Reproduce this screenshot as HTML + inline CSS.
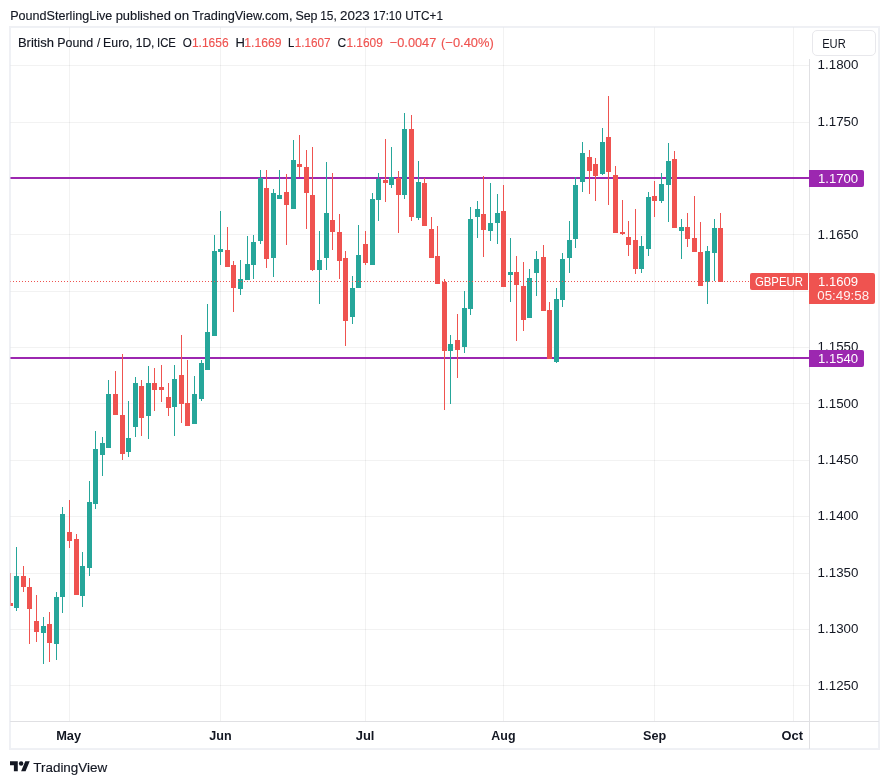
<!DOCTYPE html>
<html lang="en">
<head>
<meta charset="utf-8">
<title>GBPEUR chart</title>
<style>
html,body{margin:0;padding:0;background:#fff;}
body{width:889px;height:784px;position:relative;overflow:hidden;font-family:"Liberation Sans",sans-serif;color:#131722;}
svg{position:absolute;left:0;top:0;}
.s{position:absolute;left:0;white-space:nowrap;-webkit-text-stroke:0.15px currentColor;line-height:14px;height:14px;transform-origin:0 0;}

.w{-webkit-text-stroke:0;}
#eur{position:absolute;left:812.1px;top:30.3px;width:61.6px;height:23.3px;border:1px solid #e8e8ec;border-radius:5px;background:#fff;}
.tag{position:absolute;}
</style>
</head>
<body>
<svg width="889" height="784" viewBox="0 0 889 784" shape-rendering="crispEdges">
<rect x="10" y="65" width="799" height="1" fill="rgba(0,0,0,0.05)"/>
<rect x="10" y="122" width="799" height="1" fill="rgba(0,0,0,0.05)"/>
<rect x="10" y="178" width="799" height="1" fill="rgba(0,0,0,0.05)"/>
<rect x="10" y="234" width="799" height="1" fill="rgba(0,0,0,0.05)"/>
<rect x="10" y="291" width="799" height="1" fill="rgba(0,0,0,0.05)"/>
<rect x="10" y="347" width="799" height="1" fill="rgba(0,0,0,0.05)"/>
<rect x="10" y="403" width="799" height="1" fill="rgba(0,0,0,0.05)"/>
<rect x="10" y="460" width="799" height="1" fill="rgba(0,0,0,0.05)"/>
<rect x="10" y="516" width="799" height="1" fill="rgba(0,0,0,0.05)"/>
<rect x="10" y="573" width="799" height="1" fill="rgba(0,0,0,0.05)"/>
<rect x="10" y="629" width="799" height="1" fill="rgba(0,0,0,0.05)"/>
<rect x="10" y="685" width="799" height="1" fill="rgba(0,0,0,0.05)"/>
<rect x="69" y="27" width="1" height="694" fill="rgba(0,0,0,0.05)"/>
<rect x="220" y="27" width="1" height="694" fill="rgba(0,0,0,0.05)"/>
<rect x="365" y="27" width="1" height="694" fill="rgba(0,0,0,0.05)"/>
<rect x="503" y="27" width="1" height="694" fill="rgba(0,0,0,0.05)"/>
<rect x="654" y="27" width="1" height="694" fill="rgba(0,0,0,0.05)"/>
<rect x="793" y="27" width="1" height="694" fill="rgba(0,0,0,0.05)"/>
<rect x="10" y="177" width="799" height="2" fill="#9c27b0"/>
<rect x="10" y="357" width="799" height="2" fill="#9c27b0"/>
<rect x="10" y="603" width="3" height="3" fill="#ef5350"/>
<rect x="10" y="573" width="1" height="30" fill="#ef5350"/>
<rect x="16" y="547" width="1" height="64" fill="#26a69a"/>
<rect x="14" y="576" width="5" height="32" fill="#26a69a"/>
<rect x="23" y="566" width="1" height="26" fill="#ef5350"/>
<rect x="21" y="576" width="5" height="11" fill="#ef5350"/>
<rect x="29" y="578" width="1" height="66" fill="#ef5350"/>
<rect x="27" y="587" width="5" height="22" fill="#ef5350"/>
<rect x="36" y="595" width="1" height="47" fill="#ef5350"/>
<rect x="34" y="621" width="5" height="11" fill="#ef5350"/>
<rect x="43" y="617" width="1" height="47" fill="#26a69a"/>
<rect x="41" y="626" width="5" height="7" fill="#26a69a"/>
<rect x="49" y="612" width="1" height="50" fill="#ef5350"/>
<rect x="47" y="624" width="5" height="19" fill="#ef5350"/>
<rect x="56" y="592" width="1" height="68" fill="#26a69a"/>
<rect x="54" y="597" width="5" height="47" fill="#26a69a"/>
<rect x="62" y="507" width="1" height="106" fill="#26a69a"/>
<rect x="60" y="514" width="5" height="83" fill="#26a69a"/>
<rect x="69" y="500" width="1" height="48" fill="#ef5350"/>
<rect x="67" y="532" width="5" height="9" fill="#ef5350"/>
<rect x="76" y="534" width="1" height="61" fill="#ef5350"/>
<rect x="74" y="539" width="5" height="56" fill="#ef5350"/>
<rect x="82" y="552" width="1" height="55" fill="#26a69a"/>
<rect x="80" y="566" width="5" height="30" fill="#26a69a"/>
<rect x="89" y="481" width="1" height="95" fill="#26a69a"/>
<rect x="87" y="502" width="5" height="66" fill="#26a69a"/>
<rect x="95" y="431" width="1" height="78" fill="#26a69a"/>
<rect x="93" y="449" width="5" height="55" fill="#26a69a"/>
<rect x="102" y="437" width="1" height="39" fill="#26a69a"/>
<rect x="100" y="443" width="5" height="12" fill="#26a69a"/>
<rect x="108" y="380" width="1" height="68" fill="#26a69a"/>
<rect x="106" y="394" width="5" height="54" fill="#26a69a"/>
<rect x="115" y="371" width="1" height="44" fill="#ef5350"/>
<rect x="113" y="394" width="5" height="21" fill="#ef5350"/>
<rect x="122" y="354" width="1" height="106" fill="#ef5350"/>
<rect x="120" y="415" width="5" height="39" fill="#ef5350"/>
<rect x="128" y="401" width="1" height="56" fill="#26a69a"/>
<rect x="126" y="438" width="5" height="14" fill="#26a69a"/>
<rect x="135" y="377" width="1" height="60" fill="#26a69a"/>
<rect x="133" y="383" width="5" height="44" fill="#26a69a"/>
<rect x="141" y="380" width="1" height="56" fill="#ef5350"/>
<rect x="139" y="386" width="5" height="32" fill="#ef5350"/>
<rect x="148" y="366" width="1" height="73" fill="#26a69a"/>
<rect x="146" y="383" width="5" height="33" fill="#26a69a"/>
<rect x="154" y="368" width="1" height="43" fill="#ef5350"/>
<rect x="152" y="383" width="5" height="7" fill="#ef5350"/>
<rect x="161" y="365" width="1" height="37" fill="#ef5350"/>
<rect x="159" y="387" width="5" height="3" fill="#ef5350"/>
<rect x="168" y="383" width="1" height="33" fill="#ef5350"/>
<rect x="166" y="397" width="5" height="11" fill="#ef5350"/>
<rect x="174" y="365" width="1" height="71" fill="#26a69a"/>
<rect x="172" y="379" width="5" height="28" fill="#26a69a"/>
<rect x="181" y="335" width="1" height="88" fill="#ef5350"/>
<rect x="179" y="375" width="5" height="29" fill="#ef5350"/>
<rect x="187" y="360" width="1" height="66" fill="#ef5350"/>
<rect x="185" y="403" width="5" height="23" fill="#ef5350"/>
<rect x="194" y="376" width="1" height="48" fill="#26a69a"/>
<rect x="192" y="394" width="5" height="30" fill="#26a69a"/>
<rect x="201" y="360" width="1" height="41" fill="#26a69a"/>
<rect x="199" y="363" width="5" height="36" fill="#26a69a"/>
<rect x="207" y="304" width="1" height="66" fill="#26a69a"/>
<rect x="205" y="332" width="5" height="38" fill="#26a69a"/>
<rect x="214" y="235" width="1" height="101" fill="#26a69a"/>
<rect x="212" y="251" width="5" height="85" fill="#26a69a"/>
<rect x="220" y="211" width="1" height="54" fill="#26a69a"/>
<rect x="218" y="249" width="5" height="3" fill="#26a69a"/>
<rect x="227" y="227" width="1" height="40" fill="#ef5350"/>
<rect x="225" y="250" width="5" height="17" fill="#ef5350"/>
<rect x="233" y="261" width="1" height="51" fill="#ef5350"/>
<rect x="231" y="265" width="5" height="23" fill="#ef5350"/>
<rect x="240" y="260" width="1" height="35" fill="#26a69a"/>
<rect x="238" y="279" width="5" height="10" fill="#26a69a"/>
<rect x="247" y="236" width="1" height="44" fill="#26a69a"/>
<rect x="245" y="264" width="5" height="16" fill="#26a69a"/>
<rect x="253" y="235" width="1" height="44" fill="#26a69a"/>
<rect x="251" y="242" width="5" height="23" fill="#26a69a"/>
<rect x="260" y="170" width="1" height="74" fill="#26a69a"/>
<rect x="258" y="178" width="5" height="63" fill="#26a69a"/>
<rect x="266" y="170" width="1" height="98" fill="#ef5350"/>
<rect x="264" y="188" width="5" height="71" fill="#ef5350"/>
<rect x="273" y="189" width="1" height="88" fill="#26a69a"/>
<rect x="271" y="193" width="5" height="65" fill="#26a69a"/>
<rect x="279" y="170" width="1" height="29" fill="#26a69a"/>
<rect x="277" y="195" width="5" height="4" fill="#26a69a"/>
<rect x="286" y="174" width="1" height="71" fill="#ef5350"/>
<rect x="284" y="192" width="5" height="13" fill="#ef5350"/>
<rect x="293" y="140" width="1" height="69" fill="#26a69a"/>
<rect x="291" y="160" width="5" height="49" fill="#26a69a"/>
<rect x="299" y="135" width="1" height="42" fill="#ef5350"/>
<rect x="297" y="164" width="5" height="3" fill="#ef5350"/>
<rect x="306" y="150" width="1" height="79" fill="#ef5350"/>
<rect x="304" y="167" width="5" height="26" fill="#ef5350"/>
<rect x="312" y="147" width="1" height="124" fill="#ef5350"/>
<rect x="310" y="195" width="5" height="75" fill="#ef5350"/>
<rect x="319" y="231" width="1" height="73" fill="#26a69a"/>
<rect x="317" y="260" width="5" height="10" fill="#26a69a"/>
<rect x="326" y="162" width="1" height="108" fill="#26a69a"/>
<rect x="324" y="213" width="5" height="45" fill="#26a69a"/>
<rect x="332" y="173" width="1" height="77" fill="#ef5350"/>
<rect x="330" y="220" width="5" height="12" fill="#ef5350"/>
<rect x="339" y="214" width="1" height="65" fill="#ef5350"/>
<rect x="337" y="232" width="5" height="29" fill="#ef5350"/>
<rect x="345" y="251" width="1" height="95" fill="#ef5350"/>
<rect x="343" y="258" width="5" height="63" fill="#ef5350"/>
<rect x="352" y="276" width="1" height="48" fill="#26a69a"/>
<rect x="350" y="288" width="5" height="29" fill="#26a69a"/>
<rect x="358" y="225" width="1" height="63" fill="#26a69a"/>
<rect x="356" y="255" width="5" height="33" fill="#26a69a"/>
<rect x="365" y="231" width="1" height="34" fill="#ef5350"/>
<rect x="363" y="244" width="5" height="19" fill="#ef5350"/>
<rect x="372" y="193" width="1" height="72" fill="#26a69a"/>
<rect x="370" y="199" width="5" height="66" fill="#26a69a"/>
<rect x="378" y="173" width="1" height="48" fill="#26a69a"/>
<rect x="376" y="179" width="5" height="21" fill="#26a69a"/>
<rect x="385" y="139" width="1" height="63" fill="#ef5350"/>
<rect x="383" y="180" width="5" height="3" fill="#ef5350"/>
<rect x="391" y="147" width="1" height="41" fill="#26a69a"/>
<rect x="389" y="177" width="5" height="8" fill="#26a69a"/>
<rect x="398" y="171" width="1" height="62" fill="#ef5350"/>
<rect x="396" y="178" width="5" height="17" fill="#ef5350"/>
<rect x="404" y="113" width="1" height="86" fill="#26a69a"/>
<rect x="402" y="129" width="5" height="66" fill="#26a69a"/>
<rect x="411" y="115" width="1" height="106" fill="#ef5350"/>
<rect x="409" y="129" width="5" height="88" fill="#ef5350"/>
<rect x="418" y="161" width="1" height="59" fill="#26a69a"/>
<rect x="416" y="182" width="5" height="36" fill="#26a69a"/>
<rect x="424" y="178" width="1" height="48" fill="#ef5350"/>
<rect x="422" y="183" width="5" height="43" fill="#ef5350"/>
<rect x="431" y="217" width="1" height="41" fill="#ef5350"/>
<rect x="429" y="229" width="5" height="29" fill="#ef5350"/>
<rect x="437" y="226" width="1" height="58" fill="#ef5350"/>
<rect x="435" y="256" width="5" height="28" fill="#ef5350"/>
<rect x="444" y="279" width="1" height="131" fill="#ef5350"/>
<rect x="442" y="282" width="5" height="69" fill="#ef5350"/>
<rect x="450" y="335" width="1" height="69" fill="#26a69a"/>
<rect x="448" y="344" width="5" height="7" fill="#26a69a"/>
<rect x="457" y="314" width="1" height="64" fill="#ef5350"/>
<rect x="455" y="340" width="5" height="10" fill="#ef5350"/>
<rect x="464" y="291" width="1" height="62" fill="#26a69a"/>
<rect x="462" y="308" width="5" height="39" fill="#26a69a"/>
<rect x="470" y="207" width="1" height="108" fill="#26a69a"/>
<rect x="468" y="219" width="5" height="90" fill="#26a69a"/>
<rect x="477" y="201" width="1" height="37" fill="#26a69a"/>
<rect x="475" y="209" width="5" height="8" fill="#26a69a"/>
<rect x="483" y="176" width="1" height="81" fill="#ef5350"/>
<rect x="481" y="214" width="5" height="16" fill="#ef5350"/>
<rect x="490" y="183" width="1" height="58" fill="#26a69a"/>
<rect x="488" y="223" width="5" height="8" fill="#26a69a"/>
<rect x="497" y="194" width="1" height="50" fill="#26a69a"/>
<rect x="495" y="213" width="5" height="10" fill="#26a69a"/>
<rect x="503" y="185" width="1" height="102" fill="#ef5350"/>
<rect x="501" y="211" width="5" height="76" fill="#ef5350"/>
<rect x="510" y="238" width="1" height="64" fill="#26a69a"/>
<rect x="508" y="272" width="5" height="3" fill="#26a69a"/>
<rect x="516" y="256" width="1" height="85" fill="#ef5350"/>
<rect x="514" y="272" width="5" height="13" fill="#ef5350"/>
<rect x="523" y="262" width="1" height="69" fill="#ef5350"/>
<rect x="521" y="286" width="5" height="34" fill="#ef5350"/>
<rect x="529" y="269" width="1" height="49" fill="#26a69a"/>
<rect x="527" y="278" width="5" height="40" fill="#26a69a"/>
<rect x="536" y="251" width="1" height="45" fill="#26a69a"/>
<rect x="534" y="259" width="5" height="14" fill="#26a69a"/>
<rect x="543" y="245" width="1" height="66" fill="#ef5350"/>
<rect x="541" y="257" width="5" height="54" fill="#ef5350"/>
<rect x="549" y="302" width="1" height="57" fill="#ef5350"/>
<rect x="547" y="310" width="5" height="49" fill="#ef5350"/>
<rect x="556" y="288" width="1" height="75" fill="#26a69a"/>
<rect x="554" y="299" width="5" height="63" fill="#26a69a"/>
<rect x="562" y="253" width="1" height="54" fill="#26a69a"/>
<rect x="560" y="259" width="5" height="41" fill="#26a69a"/>
<rect x="569" y="221" width="1" height="52" fill="#26a69a"/>
<rect x="567" y="240" width="5" height="18" fill="#26a69a"/>
<rect x="575" y="177" width="1" height="71" fill="#26a69a"/>
<rect x="573" y="185" width="5" height="54" fill="#26a69a"/>
<rect x="582" y="142" width="1" height="50" fill="#26a69a"/>
<rect x="580" y="153" width="5" height="29" fill="#26a69a"/>
<rect x="589" y="150" width="1" height="44" fill="#ef5350"/>
<rect x="587" y="157" width="5" height="14" fill="#ef5350"/>
<rect x="595" y="158" width="1" height="43" fill="#ef5350"/>
<rect x="593" y="164" width="5" height="12" fill="#ef5350"/>
<rect x="602" y="128" width="1" height="47" fill="#26a69a"/>
<rect x="600" y="142" width="5" height="32" fill="#26a69a"/>
<rect x="608" y="96" width="1" height="109" fill="#ef5350"/>
<rect x="606" y="137" width="5" height="35" fill="#ef5350"/>
<rect x="615" y="166" width="1" height="67" fill="#ef5350"/>
<rect x="613" y="175" width="5" height="58" fill="#ef5350"/>
<rect x="622" y="200" width="1" height="35" fill="#ef5350"/>
<rect x="620" y="232" width="5" height="2" fill="#ef5350"/>
<rect x="628" y="221" width="1" height="35" fill="#ef5350"/>
<rect x="626" y="237" width="5" height="8" fill="#ef5350"/>
<rect x="635" y="209" width="1" height="65" fill="#ef5350"/>
<rect x="633" y="240" width="5" height="29" fill="#ef5350"/>
<rect x="641" y="236" width="1" height="37" fill="#26a69a"/>
<rect x="639" y="246" width="5" height="23" fill="#26a69a"/>
<rect x="648" y="192" width="1" height="64" fill="#26a69a"/>
<rect x="646" y="197" width="5" height="52" fill="#26a69a"/>
<rect x="654" y="181" width="1" height="36" fill="#ef5350"/>
<rect x="652" y="196" width="5" height="5" fill="#ef5350"/>
<rect x="661" y="173" width="1" height="30" fill="#26a69a"/>
<rect x="659" y="184" width="5" height="17" fill="#26a69a"/>
<rect x="668" y="143" width="1" height="79" fill="#26a69a"/>
<rect x="666" y="161" width="5" height="24" fill="#26a69a"/>
<rect x="674" y="151" width="1" height="77" fill="#ef5350"/>
<rect x="672" y="159" width="5" height="69" fill="#ef5350"/>
<rect x="681" y="219" width="1" height="40" fill="#26a69a"/>
<rect x="679" y="227" width="5" height="4" fill="#26a69a"/>
<rect x="687" y="213" width="1" height="34" fill="#ef5350"/>
<rect x="685" y="227" width="5" height="12" fill="#ef5350"/>
<rect x="694" y="196" width="1" height="56" fill="#ef5350"/>
<rect x="692" y="238" width="5" height="14" fill="#ef5350"/>
<rect x="700" y="222" width="1" height="64" fill="#ef5350"/>
<rect x="698" y="252" width="5" height="34" fill="#ef5350"/>
<rect x="707" y="246" width="1" height="58" fill="#26a69a"/>
<rect x="705" y="251" width="5" height="31" fill="#26a69a"/>
<rect x="714" y="219" width="1" height="62" fill="#26a69a"/>
<rect x="712" y="228" width="5" height="25" fill="#26a69a"/>
<rect x="720" y="213" width="1" height="69" fill="#ef5350"/>
<rect x="718" y="228" width="5" height="54" fill="#ef5350"/>
<rect x="10" y="281" width="1" height="1" fill="#ef5350"/>
<rect x="13" y="281" width="1" height="1" fill="#ef5350"/>
<rect x="16" y="281" width="1" height="1" fill="#ef5350"/>
<rect x="19" y="281" width="1" height="1" fill="#ef5350"/>
<rect x="22" y="281" width="1" height="1" fill="#ef5350"/>
<rect x="25" y="281" width="1" height="1" fill="#ef5350"/>
<rect x="28" y="281" width="1" height="1" fill="#ef5350"/>
<rect x="31" y="281" width="1" height="1" fill="#ef5350"/>
<rect x="34" y="281" width="1" height="1" fill="#ef5350"/>
<rect x="37" y="281" width="1" height="1" fill="#ef5350"/>
<rect x="40" y="281" width="1" height="1" fill="#ef5350"/>
<rect x="43" y="281" width="1" height="1" fill="#ef5350"/>
<rect x="46" y="281" width="1" height="1" fill="#ef5350"/>
<rect x="49" y="281" width="1" height="1" fill="#ef5350"/>
<rect x="52" y="281" width="1" height="1" fill="#ef5350"/>
<rect x="55" y="281" width="1" height="1" fill="#ef5350"/>
<rect x="58" y="281" width="1" height="1" fill="#ef5350"/>
<rect x="61" y="281" width="1" height="1" fill="#ef5350"/>
<rect x="64" y="281" width="1" height="1" fill="#ef5350"/>
<rect x="67" y="281" width="1" height="1" fill="#ef5350"/>
<rect x="70" y="281" width="1" height="1" fill="#ef5350"/>
<rect x="73" y="281" width="1" height="1" fill="#ef5350"/>
<rect x="76" y="281" width="1" height="1" fill="#ef5350"/>
<rect x="79" y="281" width="1" height="1" fill="#ef5350"/>
<rect x="82" y="281" width="1" height="1" fill="#ef5350"/>
<rect x="85" y="281" width="1" height="1" fill="#ef5350"/>
<rect x="88" y="281" width="1" height="1" fill="#ef5350"/>
<rect x="91" y="281" width="1" height="1" fill="#ef5350"/>
<rect x="94" y="281" width="1" height="1" fill="#ef5350"/>
<rect x="97" y="281" width="1" height="1" fill="#ef5350"/>
<rect x="100" y="281" width="1" height="1" fill="#ef5350"/>
<rect x="103" y="281" width="1" height="1" fill="#ef5350"/>
<rect x="106" y="281" width="1" height="1" fill="#ef5350"/>
<rect x="109" y="281" width="1" height="1" fill="#ef5350"/>
<rect x="112" y="281" width="1" height="1" fill="#ef5350"/>
<rect x="115" y="281" width="1" height="1" fill="#ef5350"/>
<rect x="118" y="281" width="1" height="1" fill="#ef5350"/>
<rect x="121" y="281" width="1" height="1" fill="#ef5350"/>
<rect x="124" y="281" width="1" height="1" fill="#ef5350"/>
<rect x="127" y="281" width="1" height="1" fill="#ef5350"/>
<rect x="130" y="281" width="1" height="1" fill="#ef5350"/>
<rect x="133" y="281" width="1" height="1" fill="#ef5350"/>
<rect x="136" y="281" width="1" height="1" fill="#ef5350"/>
<rect x="139" y="281" width="1" height="1" fill="#ef5350"/>
<rect x="142" y="281" width="1" height="1" fill="#ef5350"/>
<rect x="145" y="281" width="1" height="1" fill="#ef5350"/>
<rect x="148" y="281" width="1" height="1" fill="#ef5350"/>
<rect x="151" y="281" width="1" height="1" fill="#ef5350"/>
<rect x="154" y="281" width="1" height="1" fill="#ef5350"/>
<rect x="157" y="281" width="1" height="1" fill="#ef5350"/>
<rect x="160" y="281" width="1" height="1" fill="#ef5350"/>
<rect x="163" y="281" width="1" height="1" fill="#ef5350"/>
<rect x="166" y="281" width="1" height="1" fill="#ef5350"/>
<rect x="169" y="281" width="1" height="1" fill="#ef5350"/>
<rect x="172" y="281" width="1" height="1" fill="#ef5350"/>
<rect x="175" y="281" width="1" height="1" fill="#ef5350"/>
<rect x="178" y="281" width="1" height="1" fill="#ef5350"/>
<rect x="181" y="281" width="1" height="1" fill="#ef5350"/>
<rect x="184" y="281" width="1" height="1" fill="#ef5350"/>
<rect x="187" y="281" width="1" height="1" fill="#ef5350"/>
<rect x="190" y="281" width="1" height="1" fill="#ef5350"/>
<rect x="193" y="281" width="1" height="1" fill="#ef5350"/>
<rect x="196" y="281" width="1" height="1" fill="#ef5350"/>
<rect x="199" y="281" width="1" height="1" fill="#ef5350"/>
<rect x="202" y="281" width="1" height="1" fill="#ef5350"/>
<rect x="205" y="281" width="1" height="1" fill="#ef5350"/>
<rect x="208" y="281" width="1" height="1" fill="#ef5350"/>
<rect x="211" y="281" width="1" height="1" fill="#ef5350"/>
<rect x="214" y="281" width="1" height="1" fill="#ef5350"/>
<rect x="217" y="281" width="1" height="1" fill="#ef5350"/>
<rect x="220" y="281" width="1" height="1" fill="#ef5350"/>
<rect x="223" y="281" width="1" height="1" fill="#ef5350"/>
<rect x="226" y="281" width="1" height="1" fill="#ef5350"/>
<rect x="229" y="281" width="1" height="1" fill="#ef5350"/>
<rect x="232" y="281" width="1" height="1" fill="#ef5350"/>
<rect x="235" y="281" width="1" height="1" fill="#ef5350"/>
<rect x="238" y="281" width="1" height="1" fill="#ef5350"/>
<rect x="241" y="281" width="1" height="1" fill="#ef5350"/>
<rect x="244" y="281" width="1" height="1" fill="#ef5350"/>
<rect x="247" y="281" width="1" height="1" fill="#ef5350"/>
<rect x="250" y="281" width="1" height="1" fill="#ef5350"/>
<rect x="253" y="281" width="1" height="1" fill="#ef5350"/>
<rect x="256" y="281" width="1" height="1" fill="#ef5350"/>
<rect x="259" y="281" width="1" height="1" fill="#ef5350"/>
<rect x="262" y="281" width="1" height="1" fill="#ef5350"/>
<rect x="265" y="281" width="1" height="1" fill="#ef5350"/>
<rect x="268" y="281" width="1" height="1" fill="#ef5350"/>
<rect x="271" y="281" width="1" height="1" fill="#ef5350"/>
<rect x="274" y="281" width="1" height="1" fill="#ef5350"/>
<rect x="277" y="281" width="1" height="1" fill="#ef5350"/>
<rect x="280" y="281" width="1" height="1" fill="#ef5350"/>
<rect x="283" y="281" width="1" height="1" fill="#ef5350"/>
<rect x="286" y="281" width="1" height="1" fill="#ef5350"/>
<rect x="289" y="281" width="1" height="1" fill="#ef5350"/>
<rect x="292" y="281" width="1" height="1" fill="#ef5350"/>
<rect x="295" y="281" width="1" height="1" fill="#ef5350"/>
<rect x="298" y="281" width="1" height="1" fill="#ef5350"/>
<rect x="301" y="281" width="1" height="1" fill="#ef5350"/>
<rect x="304" y="281" width="1" height="1" fill="#ef5350"/>
<rect x="307" y="281" width="1" height="1" fill="#ef5350"/>
<rect x="310" y="281" width="1" height="1" fill="#ef5350"/>
<rect x="313" y="281" width="1" height="1" fill="#ef5350"/>
<rect x="316" y="281" width="1" height="1" fill="#ef5350"/>
<rect x="319" y="281" width="1" height="1" fill="#ef5350"/>
<rect x="322" y="281" width="1" height="1" fill="#ef5350"/>
<rect x="325" y="281" width="1" height="1" fill="#ef5350"/>
<rect x="328" y="281" width="1" height="1" fill="#ef5350"/>
<rect x="331" y="281" width="1" height="1" fill="#ef5350"/>
<rect x="334" y="281" width="1" height="1" fill="#ef5350"/>
<rect x="337" y="281" width="1" height="1" fill="#ef5350"/>
<rect x="340" y="281" width="1" height="1" fill="#ef5350"/>
<rect x="343" y="281" width="1" height="1" fill="#ef5350"/>
<rect x="346" y="281" width="1" height="1" fill="#ef5350"/>
<rect x="349" y="281" width="1" height="1" fill="#ef5350"/>
<rect x="352" y="281" width="1" height="1" fill="#ef5350"/>
<rect x="355" y="281" width="1" height="1" fill="#ef5350"/>
<rect x="358" y="281" width="1" height="1" fill="#ef5350"/>
<rect x="361" y="281" width="1" height="1" fill="#ef5350"/>
<rect x="364" y="281" width="1" height="1" fill="#ef5350"/>
<rect x="367" y="281" width="1" height="1" fill="#ef5350"/>
<rect x="370" y="281" width="1" height="1" fill="#ef5350"/>
<rect x="373" y="281" width="1" height="1" fill="#ef5350"/>
<rect x="376" y="281" width="1" height="1" fill="#ef5350"/>
<rect x="379" y="281" width="1" height="1" fill="#ef5350"/>
<rect x="382" y="281" width="1" height="1" fill="#ef5350"/>
<rect x="385" y="281" width="1" height="1" fill="#ef5350"/>
<rect x="388" y="281" width="1" height="1" fill="#ef5350"/>
<rect x="391" y="281" width="1" height="1" fill="#ef5350"/>
<rect x="394" y="281" width="1" height="1" fill="#ef5350"/>
<rect x="397" y="281" width="1" height="1" fill="#ef5350"/>
<rect x="400" y="281" width="1" height="1" fill="#ef5350"/>
<rect x="403" y="281" width="1" height="1" fill="#ef5350"/>
<rect x="406" y="281" width="1" height="1" fill="#ef5350"/>
<rect x="409" y="281" width="1" height="1" fill="#ef5350"/>
<rect x="412" y="281" width="1" height="1" fill="#ef5350"/>
<rect x="415" y="281" width="1" height="1" fill="#ef5350"/>
<rect x="418" y="281" width="1" height="1" fill="#ef5350"/>
<rect x="421" y="281" width="1" height="1" fill="#ef5350"/>
<rect x="424" y="281" width="1" height="1" fill="#ef5350"/>
<rect x="427" y="281" width="1" height="1" fill="#ef5350"/>
<rect x="430" y="281" width="1" height="1" fill="#ef5350"/>
<rect x="433" y="281" width="1" height="1" fill="#ef5350"/>
<rect x="436" y="281" width="1" height="1" fill="#ef5350"/>
<rect x="439" y="281" width="1" height="1" fill="#ef5350"/>
<rect x="442" y="281" width="1" height="1" fill="#ef5350"/>
<rect x="445" y="281" width="1" height="1" fill="#ef5350"/>
<rect x="448" y="281" width="1" height="1" fill="#ef5350"/>
<rect x="451" y="281" width="1" height="1" fill="#ef5350"/>
<rect x="454" y="281" width="1" height="1" fill="#ef5350"/>
<rect x="457" y="281" width="1" height="1" fill="#ef5350"/>
<rect x="460" y="281" width="1" height="1" fill="#ef5350"/>
<rect x="463" y="281" width="1" height="1" fill="#ef5350"/>
<rect x="466" y="281" width="1" height="1" fill="#ef5350"/>
<rect x="469" y="281" width="1" height="1" fill="#ef5350"/>
<rect x="472" y="281" width="1" height="1" fill="#ef5350"/>
<rect x="475" y="281" width="1" height="1" fill="#ef5350"/>
<rect x="478" y="281" width="1" height="1" fill="#ef5350"/>
<rect x="481" y="281" width="1" height="1" fill="#ef5350"/>
<rect x="484" y="281" width="1" height="1" fill="#ef5350"/>
<rect x="487" y="281" width="1" height="1" fill="#ef5350"/>
<rect x="490" y="281" width="1" height="1" fill="#ef5350"/>
<rect x="493" y="281" width="1" height="1" fill="#ef5350"/>
<rect x="496" y="281" width="1" height="1" fill="#ef5350"/>
<rect x="499" y="281" width="1" height="1" fill="#ef5350"/>
<rect x="502" y="281" width="1" height="1" fill="#ef5350"/>
<rect x="505" y="281" width="1" height="1" fill="#ef5350"/>
<rect x="508" y="281" width="1" height="1" fill="#ef5350"/>
<rect x="511" y="281" width="1" height="1" fill="#ef5350"/>
<rect x="514" y="281" width="1" height="1" fill="#ef5350"/>
<rect x="517" y="281" width="1" height="1" fill="#ef5350"/>
<rect x="520" y="281" width="1" height="1" fill="#ef5350"/>
<rect x="523" y="281" width="1" height="1" fill="#ef5350"/>
<rect x="526" y="281" width="1" height="1" fill="#ef5350"/>
<rect x="529" y="281" width="1" height="1" fill="#ef5350"/>
<rect x="532" y="281" width="1" height="1" fill="#ef5350"/>
<rect x="535" y="281" width="1" height="1" fill="#ef5350"/>
<rect x="538" y="281" width="1" height="1" fill="#ef5350"/>
<rect x="541" y="281" width="1" height="1" fill="#ef5350"/>
<rect x="544" y="281" width="1" height="1" fill="#ef5350"/>
<rect x="547" y="281" width="1" height="1" fill="#ef5350"/>
<rect x="550" y="281" width="1" height="1" fill="#ef5350"/>
<rect x="553" y="281" width="1" height="1" fill="#ef5350"/>
<rect x="556" y="281" width="1" height="1" fill="#ef5350"/>
<rect x="559" y="281" width="1" height="1" fill="#ef5350"/>
<rect x="562" y="281" width="1" height="1" fill="#ef5350"/>
<rect x="565" y="281" width="1" height="1" fill="#ef5350"/>
<rect x="568" y="281" width="1" height="1" fill="#ef5350"/>
<rect x="571" y="281" width="1" height="1" fill="#ef5350"/>
<rect x="574" y="281" width="1" height="1" fill="#ef5350"/>
<rect x="577" y="281" width="1" height="1" fill="#ef5350"/>
<rect x="580" y="281" width="1" height="1" fill="#ef5350"/>
<rect x="583" y="281" width="1" height="1" fill="#ef5350"/>
<rect x="586" y="281" width="1" height="1" fill="#ef5350"/>
<rect x="589" y="281" width="1" height="1" fill="#ef5350"/>
<rect x="592" y="281" width="1" height="1" fill="#ef5350"/>
<rect x="595" y="281" width="1" height="1" fill="#ef5350"/>
<rect x="598" y="281" width="1" height="1" fill="#ef5350"/>
<rect x="601" y="281" width="1" height="1" fill="#ef5350"/>
<rect x="604" y="281" width="1" height="1" fill="#ef5350"/>
<rect x="607" y="281" width="1" height="1" fill="#ef5350"/>
<rect x="610" y="281" width="1" height="1" fill="#ef5350"/>
<rect x="613" y="281" width="1" height="1" fill="#ef5350"/>
<rect x="616" y="281" width="1" height="1" fill="#ef5350"/>
<rect x="619" y="281" width="1" height="1" fill="#ef5350"/>
<rect x="622" y="281" width="1" height="1" fill="#ef5350"/>
<rect x="625" y="281" width="1" height="1" fill="#ef5350"/>
<rect x="628" y="281" width="1" height="1" fill="#ef5350"/>
<rect x="631" y="281" width="1" height="1" fill="#ef5350"/>
<rect x="634" y="281" width="1" height="1" fill="#ef5350"/>
<rect x="637" y="281" width="1" height="1" fill="#ef5350"/>
<rect x="640" y="281" width="1" height="1" fill="#ef5350"/>
<rect x="643" y="281" width="1" height="1" fill="#ef5350"/>
<rect x="646" y="281" width="1" height="1" fill="#ef5350"/>
<rect x="649" y="281" width="1" height="1" fill="#ef5350"/>
<rect x="652" y="281" width="1" height="1" fill="#ef5350"/>
<rect x="655" y="281" width="1" height="1" fill="#ef5350"/>
<rect x="658" y="281" width="1" height="1" fill="#ef5350"/>
<rect x="661" y="281" width="1" height="1" fill="#ef5350"/>
<rect x="664" y="281" width="1" height="1" fill="#ef5350"/>
<rect x="667" y="281" width="1" height="1" fill="#ef5350"/>
<rect x="670" y="281" width="1" height="1" fill="#ef5350"/>
<rect x="673" y="281" width="1" height="1" fill="#ef5350"/>
<rect x="676" y="281" width="1" height="1" fill="#ef5350"/>
<rect x="679" y="281" width="1" height="1" fill="#ef5350"/>
<rect x="682" y="281" width="1" height="1" fill="#ef5350"/>
<rect x="685" y="281" width="1" height="1" fill="#ef5350"/>
<rect x="688" y="281" width="1" height="1" fill="#ef5350"/>
<rect x="691" y="281" width="1" height="1" fill="#ef5350"/>
<rect x="694" y="281" width="1" height="1" fill="#ef5350"/>
<rect x="697" y="281" width="1" height="1" fill="#ef5350"/>
<rect x="700" y="281" width="1" height="1" fill="#ef5350"/>
<rect x="703" y="281" width="1" height="1" fill="#ef5350"/>
<rect x="706" y="281" width="1" height="1" fill="#ef5350"/>
<rect x="709" y="281" width="1" height="1" fill="#ef5350"/>
<rect x="712" y="281" width="1" height="1" fill="#ef5350"/>
<rect x="715" y="281" width="1" height="1" fill="#ef5350"/>
<rect x="718" y="281" width="1" height="1" fill="#ef5350"/>
<rect x="721" y="281" width="1" height="1" fill="#ef5350"/>
<rect x="724" y="281" width="1" height="1" fill="#ef5350"/>
<rect x="727" y="281" width="1" height="1" fill="#ef5350"/>
<rect x="730" y="281" width="1" height="1" fill="#ef5350"/>
<rect x="733" y="281" width="1" height="1" fill="#ef5350"/>
<rect x="736" y="281" width="1" height="1" fill="#ef5350"/>
<rect x="739" y="281" width="1" height="1" fill="#ef5350"/>
<rect x="742" y="281" width="1" height="1" fill="#ef5350"/>
<rect x="745" y="281" width="1" height="1" fill="#ef5350"/>
<rect x="748" y="281" width="1" height="1" fill="#ef5350"/>
<rect x="809" y="59" width="1" height="690" fill="#e0e0e3"/>
<rect x="10" y="721" width="869" height="1" fill="#e0e0e3"/>
<rect x="9" y="26" width="871" height="1" fill="#eff0f4"/>
<rect x="9" y="749" width="871" height="1" fill="#eff0f4"/>
<rect x="9" y="27" width="1" height="722" fill="#eff0f4"/>
<rect x="879" y="27" width="1" height="722" fill="#eff0f4"/>
<rect x="10" y="27" width="869" height="1" fill="rgba(224,227,235,0.5)"/>
<rect x="10" y="748" width="869" height="1" fill="rgba(224,227,235,0.5)"/>
<rect x="10" y="28" width="1" height="720" fill="rgba(224,227,235,0.5)"/>
<rect x="878" y="28" width="1" height="720" fill="rgba(224,227,235,0.5)"/>
</svg>
<div id="hdr"><span class="s" style="top:9px;font-size:13px;transform:translate(10.20px,0) scaleX(0.9669);">PoundSterlingLive</span> <span class="s" style="top:9px;font-size:13px;transform:translate(115.65px,0) scaleX(0.9907);">published</span> <span class="s" style="top:9px;font-size:13px;transform:translate(174.30px,0) scaleX(1.0227);">on</span> <span class="s" style="top:9px;font-size:13px;transform:translate(192.25px,0) scaleX(0.9768);">TradingView.com,</span> <span class="s" style="top:9px;font-size:13px;transform:translate(295.40px,0) scaleX(0.9566);">Sep</span> <span class="s" style="top:9px;font-size:13px;transform:translate(320.25px,0) scaleX(0.9158);">15,</span> <span class="s" style="top:9px;font-size:13px;transform:translate(340.00px,0) scaleX(1.0304);">2023</span> <span class="s" style="top:9px;font-size:13px;transform:translate(372.95px,0) scaleX(0.8791);">17:10</span> <span class="s" style="top:9px;font-size:13px;transform:translate(405.35px,0) scaleX(0.905);">UTC+1</span></div>
<div id="lg"><span class="s" style="top:36px;font-size:13px;transform:translate(17.90px,0) scaleX(0.9986);">British</span> <span class="s" style="top:36px;font-size:13px;transform:translate(57.30px,0) scaleX(0.9538);">Pound</span> <span class="s" style="top:36px;font-size:13px;transform:translate(97.10px,0) scaleX(0.9166);">/</span> <span class="s" style="top:36px;font-size:13px;transform:translate(103.10px,0) scaleX(0.9465);">Euro,</span> <span class="s" style="top:36px;font-size:13px;transform:translate(135.75px,0) scaleX(0.9251);">1D,</span> <span class="s" style="top:36px;font-size:13px;transform:translate(157.00px,0) scaleX(0.8725);">ICE</span> <span class="s" style="top:36px;font-size:13px;transform:translate(182.70px,0) scaleX(0.8947);">O</span><span class="s" style="top:36px;font-size:13px;transform:translate(191.95px,0) scaleX(0.9203);color:#ef5350;">1.1656</span> <span class="s" style="top:36px;font-size:13px;transform:translate(235.40px,0) scaleX(1.0);">H</span><span class="s" style="top:36px;font-size:13px;transform:translate(244.30px,0) scaleX(0.9373);color:#ef5350;">1.1669</span> <span class="s" style="top:36px;font-size:13px;transform:translate(287.90px,0) scaleX(0.8696);">L</span><span class="s" style="top:36px;font-size:13px;transform:translate(294.75px,0) scaleX(0.902);color:#ef5350;">1.1607</span> <span class="s" style="top:36px;font-size:13px;transform:translate(337.60px,0) scaleX(0.9213);">C</span><span class="s" style="top:36px;font-size:13px;transform:translate(346.45px,0) scaleX(0.915);color:#ef5350;">1.1609</span> <span class="s" style="top:36px;font-size:13px;transform:translate(389.80px,0) scaleX(0.9826);color:#ef5350;">−0.0047</span> <span class="s" style="top:36px;font-size:13px;transform:translate(441.05px,0) scaleX(0.9923);color:#ef5350;">(−0.40%)</span></div>
<div id="eur"></div>
<div><span class="s w" style="top:37px;font-size:12px;transform:translate(822.15px,0) scaleX(0.9305);">EUR</span></div>
<div id="prices"><span class="s w" style="top:58px;font-size:12px;transform:translate(817.60px,0) scaleX(1.1113);">1.1800</span><span class="s w" style="top:115px;font-size:12px;transform:translate(817.60px,0) scaleX(1.1113);">1.1750</span><span class="s w" style="top:228px;font-size:12px;transform:translate(817.60px,0) scaleX(1.1113);">1.1650</span><span class="s w" style="top:340px;font-size:12px;transform:translate(817.60px,0) scaleX(1.1113);">1.1550</span><span class="s w" style="top:397px;font-size:12px;transform:translate(817.60px,0) scaleX(1.1113);">1.1500</span><span class="s w" style="top:453px;font-size:12px;transform:translate(817.60px,0) scaleX(1.1113);">1.1450</span><span class="s w" style="top:509px;font-size:12px;transform:translate(817.60px,0) scaleX(1.1113);">1.1400</span><span class="s w" style="top:566px;font-size:12px;transform:translate(817.60px,0) scaleX(1.1113);">1.1350</span><span class="s w" style="top:622px;font-size:12px;transform:translate(817.60px,0) scaleX(1.1113);">1.1300</span><span class="s w" style="top:679px;font-size:12px;transform:translate(817.60px,0) scaleX(1.1113);">1.1250</span></div>
<div class="tag" style="left:809px;top:170px;width:55px;height:17px;background:#9c27b0;border-radius:0 2px 2px 0;"><span class="s w" style="top:2px;font-size:12px;transform:translate(9.00px,0) scaleX(1.093);color:#fff;">1.1700</span></div>
<div class="tag" style="left:809px;top:350px;width:55px;height:17px;background:#9c27b0;border-radius:0 2px 2px 0;"><span class="s w" style="top:2px;font-size:12px;transform:translate(9.00px,0) scaleX(1.093);color:#fff;">1.1540</span></div>
<div class="tag" style="left:750px;top:273px;width:58px;height:17px;background:#ef5350;border-radius:2px 0 0 2px;"><span class="s w" style="top:2px;font-size:12px;transform:translate(4.90px,0) scaleX(0.9495);color:#fff;">GBPEUR</span></div>
<div class="tag" style="left:809px;top:273px;width:66px;height:31px;background:#ef5350;border-radius:0 2px 2px 0;"><span class="s w" style="top:2px;font-size:12px;transform:translate(9.00px,0) scaleX(1.093);color:#fff;">1.1609</span><span class="s w" style="top:16px;font-size:12px;transform:translate(8.30px,0) scaleX(1.1071);color:rgba(255,255,255,0.92);">05:49:58</span></div>
<div id="months"><span class="s w" style="top:729px;font-size:12px;transform:translate(56.15px,0) scaleX(1.0689);font-weight:bold;">May</span><span class="s w" style="top:729px;font-size:12px;transform:translate(209.35px,0) scaleX(1.0464);font-weight:bold;">Jun</span><span class="s w" style="top:729px;font-size:12px;transform:translate(355.75px,0) scaleX(1.08);font-weight:bold;">Jul</span><span class="s w" style="top:729px;font-size:12px;transform:translate(491.35px,0) scaleX(1.0337);font-weight:bold;">Aug</span><span class="s w" style="top:729px;font-size:12px;transform:translate(643.00px,0) scaleX(1.0523);font-weight:bold;">Sep</span><span class="s w" style="top:729px;font-size:12px;transform:translate(781.60px,0) scaleX(1.0692);font-weight:bold;">Oct</span></div>
<svg id="logo" style="left:10px;top:759.3px" width="20" height="15.6" viewBox="0 0 36 28"><path fill="#131722" d="M14 22H7V11H0V4h14v18zM28 22h-8l7.500-18h8L28 22z"/><circle fill="#131722" cx="20" cy="8" r="4"/></svg>
<div><span class="s" style="top:761px;font-size:13px;transform:translate(33.25px,0) scaleX(1.0337);">TradingView</span></div>
</body>
</html>
